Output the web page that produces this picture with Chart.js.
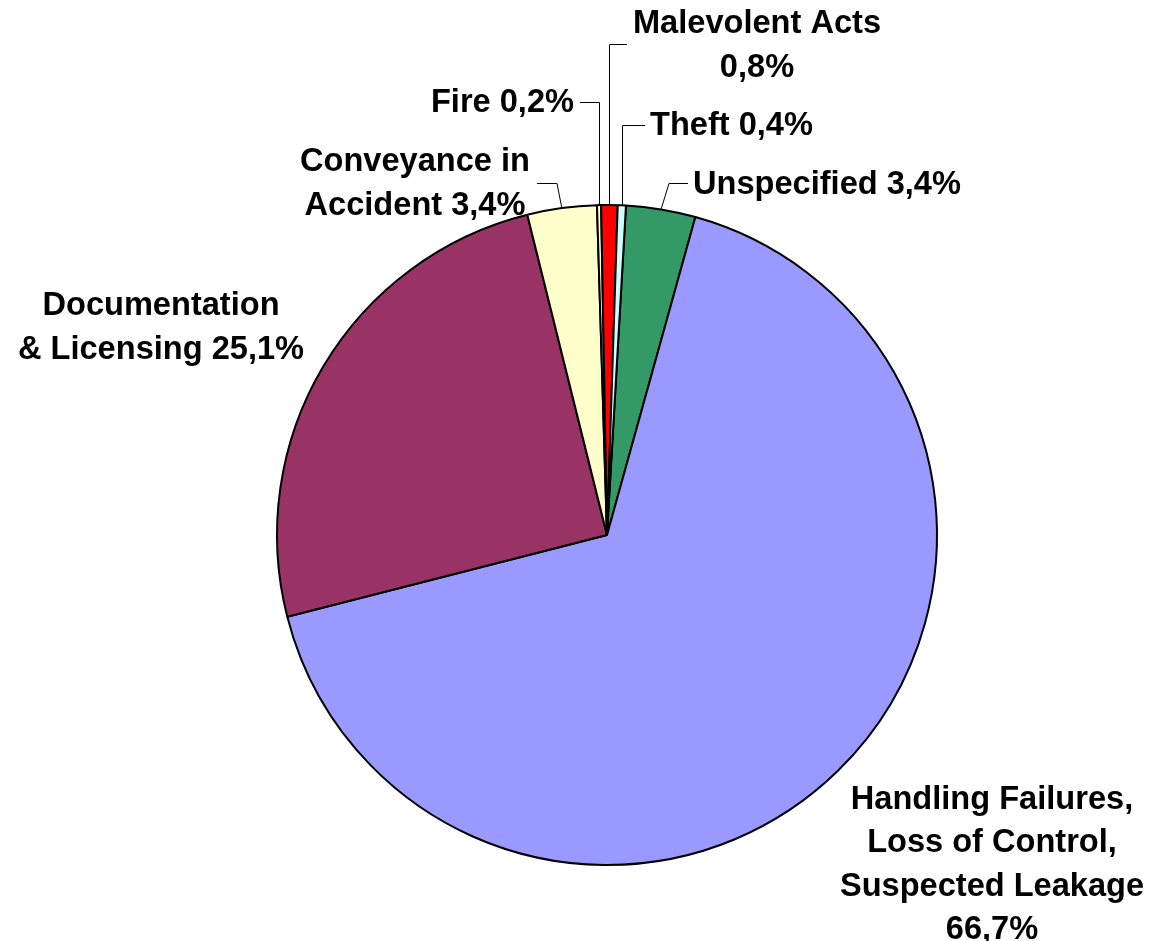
<!DOCTYPE html>
<html>
<head>
<meta charset="utf-8">
<script src="https://cdn.jsdelivr.net/npm/chart.js@4/dist/chart.umd.min.js"></script>
<style>
html,body{margin:0;padding:0;background:#fff;}
#wrap{position:relative;width:1160px;height:941px;}
</style>
</head>
<body>
<div id="wrap"><canvas id="c" width="1160" height="941"></canvas></div>
<script>
// ---- data ----
const categories = ["Unspecified", "Handling Failures, Loss of Control, Suspected Leakage", "Documentation & Licensing", "Conveyance in Accident", "Fire", "Malevolent Acts", "Theft"];
const values = [3.4, 66.7, 25.1, 3.4, 0.2, 0.8, 0.4];
const labelLines = [
  ["Unspecified 3,4%"],
  ["Handling Failures,", "Loss of Control,", "Suspected Leakage", "66,7%"],
  ["Documentation", "& Licensing 25,1%"],
  ["Conveyance in", "Accident 3,4%"],
  ["Fire 0,2%"],
  ["Malevolent Acts", "0,8%"],
  ["Theft 0,4%"]
];
const colors = ["#339966", "#9999FF", "#993366", "#FFFFCC", "#FFFFCC", "#FF0000", "#CCFFFF"];

// ---- label layout (positions, not data) ----
const labelLayout = [
  {x: 693, y: 185, align: "left", leader: {elbow: [669, 183], end: 688}},
  {x: 992, y: 800, align: "center", lh: 43.5},
  {x: 161, y: 306, align: "center", lh: 44},
  {x: 415, y: 162, align: "center", lh: 44, leader: {elbow: [557, 183], end: 537}},
  {x: 574, y: 103, align: "right", leader: {vertical: true, y: 102, end: 580}},
  {x: 757, y: 24, align: "center", lh: 44, leader: {vertical: true, y: 44, end: 627}},
  {x: 650, y: 126, align: "left", leader: {vertical: true, y: 125, end: 645}}
];

const labelPlugin = {
  id: "pieLabels",
  afterDatasetsDraw(chart) {
    const ctx = chart.ctx;
    const meta = chart.getDatasetMeta(0);
    ctx.save();
    ctx.font = "bold 32.6px 'Liberation Sans', Arial, sans-serif";
    ctx.fillStyle = "#000";
    ctx.textBaseline = "middle";
    meta.data.forEach((arc, i) => {
      const L = labelLayout[i];
      const p = arc.getProps(["x", "y", "startAngle", "endAngle", "outerRadius"], true);
      const mid = (p.startAngle + p.endAngle) / 2;
      const ax = p.x + Math.cos(mid) * p.outerRadius;
      const ay = p.y + Math.sin(mid) * p.outerRadius;
      if (L.leader) {
        ctx.beginPath();
        ctx.strokeStyle = "#000";
        ctx.lineWidth = 1;
        if (L.leader.vertical) {
          const vx = Math.round(ax) + 0.5;
          ctx.moveTo(vx, ay);
          ctx.lineTo(vx, L.leader.y + 0.5);
          ctx.lineTo(L.leader.end, L.leader.y + 0.5);
        } else {
          ctx.moveTo(ax, ay);
          ctx.lineTo(L.leader.elbow[0], L.leader.elbow[1] + 0.5);
          ctx.lineTo(L.leader.end, L.leader.elbow[1] + 0.5);
        }
        ctx.stroke();
      }
      ctx.textAlign = L.align;
      const lines = labelLines[i];
      lines.forEach((t, k) => {
        ctx.fillText(t, L.x, L.y + k * (L.lh || 44));
      });
    });
    ctx.restore();
  }
};

new Chart(document.getElementById("c"), {
  type: "pie",
  data: {
    labels: categories,
    datasets: [{
      data: values,
      backgroundColor: colors,
      borderColor: "#000",
      borderWidth: 2,
      borderAlign: "center"
    }]
  },
  options: {
    responsive: false,
    animation: false,
    rotation: 3.3,
    layout: {padding: {left: 276, right: 222, top: 204, bottom: 75}},
    plugins: {legend: {display: false}, tooltip: {enabled: false}}
  },
  plugins: [labelPlugin]
});
</script>
</body>
</html>
